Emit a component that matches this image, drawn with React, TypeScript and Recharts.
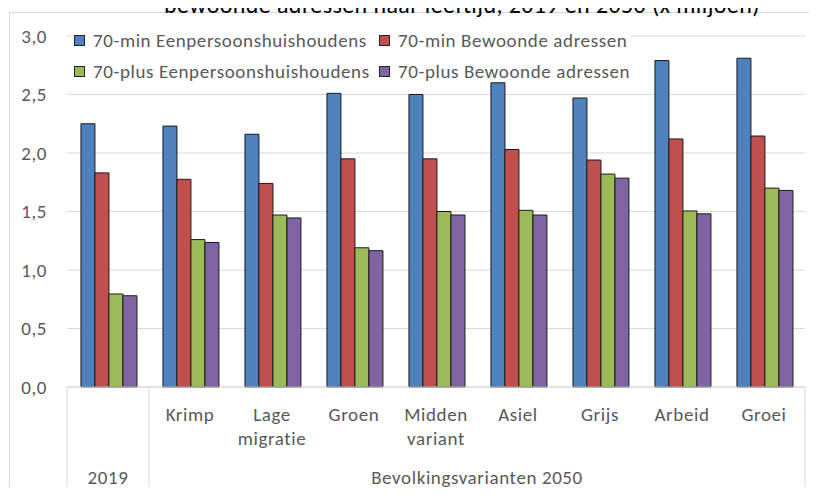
import * as React from "react";
import { BarChart, Bar, XAxis, YAxis, CartesianGrid, Legend } from "recharts";

const categories = ["2019", "Krimp", "Lage migratie", "Groen", "Midden variant", "Asiel", "Grijs", "Arbeid", "Groei"];
const groupLabels = ["2019", "Bevolkingsvarianten 2050"];

const min70Eenpersoons = [2.25, 2.23, 2.16, 2.51, 2.5, 2.6, 2.47, 2.79, 2.81];
const min70Adressen = [1.83, 1.775, 1.74, 1.95, 1.95, 2.03, 1.94, 2.12, 2.145];
const plus70Eenpersoons = [0.795, 1.26, 1.47, 1.19, 1.5, 1.51, 1.82, 1.505, 1.7];
const plus70Adressen = [0.78, 1.235, 1.445, 1.165, 1.47, 1.47, 1.785, 1.48, 1.68];

const yTicks = [0, 0.5, 1, 1.5, 2, 2.5, 3];

const SERIES = [
  { key: "min1", name: "70-min Eenpersoonshuishoudens", color: "#4F81BD", values: min70Eenpersoons },
  { key: "minA", name: "70-min Bewoonde adressen", color: "#C0504D", values: min70Adressen },
  { key: "plus1", name: "70-plus Eenpersoonshuishoudens", color: "#9BBB59", values: plus70Eenpersoons },
  { key: "plusA", name: "70-plus Bewoonde adressen", color: "#8064A2", values: plus70Adressen },
];

const data = categories.map((name, i) => {
  const row: Record<string, string | number> = { name };
  SERIES.forEach((s) => (row[s.key] = s.values[i]));
  return row;
});

const W = 817;
const H = 495;
const MARGIN = { top: 36, right: 12, left: 0, bottom: 0 };
const Y_W = 67;
const X_H = 108;
const FONT = "Carlito, Lato, 'Liberation Sans', sans-serif";
const TEXT = "#595959";
const LINE = "#d9d9d9";
const LABEL = { fill: TEXT, fontSize: 19, fontFamily: FONT, letterSpacing: 0.6 };

function CategoryTick(props: any) {
  const { x, y, payload, index } = props;
  const band =
    payload && payload.offset ? payload.offset * 2 : (W - MARGIN.left - MARGIN.right - Y_W) / categories.length;
  const bottom = y + X_H;
  const label = index === 0 ? [] : String(payload.value).split(" ");
  return (
    <g>
      {label.map((line: string, i: number) => (
        <text key={i} x={x} y={y + 34 + i * 24} textAnchor="middle" {...LABEL}>
          {line}
        </text>
      ))}
      {index === 0 && (
        <>
          <line x1={x - band / 2} x2={x - band / 2} y1={y} y2={bottom} stroke={LINE} />
          <line x1={x + band / 2} x2={x + band / 2} y1={y} y2={bottom} stroke={LINE} />
          <text x={x} y={y + 97} textAnchor="middle" {...LABEL}>
            {groupLabels[0]}
          </text>
        </>
      )}
      {index === 1 && (
        <text x={x + band * 3.5} y={y + 97} textAnchor="middle" {...LABEL}>
          {groupLabels[1]}
        </text>
      )}
      {index === categories.length - 1 && (
        <line x1={x + band / 2} x2={x + band / 2} y1={y} y2={bottom} stroke={LINE} />
      )}
    </g>
  );
}

function LegendBox() {
  return (
    <div
      style={{
        background: "#fff",
        display: "grid",
        gridTemplateColumns: "305px 252px",
        rowGap: 11,
        fontFamily: FONT,
        fontSize: 19,
        letterSpacing: 0.6,
        color: TEXT,
      }}
    >
      {SERIES.map((s) => (
        <div key={s.key} style={{ display: "flex", alignItems: "center", height: 20, whiteSpace: "nowrap" }}>
          <span
            style={{
              display: "inline-block",
              width: 9,
              height: 9,
              background: s.color,
              border: "1px solid #222",
              marginRight: 8,
            }}
          />
          {s.name}
        </div>
      ))}
    </div>
  );
}

export default function App() {
  return (
    <div style={{ position: "relative", width: W, height: H, margin: -8, background: "#fff" }}>
      <div
        style={{
          position: "absolute",
          left: 9,
          top: 12,
          width: 810,
          height: 500,
          border: `1px solid ${LINE}`,
          boxSizing: "border-box",
        }}
      />
      <div
        style={{
          position: "absolute",
          left: 0,
          width: 924,
          top: -7,
          textAlign: "center",
          fontFamily: FONT,
          fontSize: 24,
          letterSpacing: 0.4,
          lineHeight: "24px",
          color: "#000",
          whiteSpace: "nowrap",
        }}
      >
        bewoonde adressen naar leeftijd, 2019 en 2050 (x miljoen)
      </div>
      <div style={{ position: "absolute", left: 0, top: 0 }}>
        <BarChart width={W} height={H} data={data} margin={MARGIN} barCategoryGap="17%" barGap={0}>
          <CartesianGrid vertical={false} stroke={LINE} />
          <XAxis
            dataKey="name"
            height={X_H}
            interval={0}
            tickLine={false}
            tickSize={0}
            tickMargin={0}
            axisLine={{ stroke: LINE }}
            tick={(p: any) => <CategoryTick {...p} />}
          />
          <YAxis
            width={Y_W}
            domain={[0, 3]}
            ticks={yTicks}
            interval={0}
            axisLine={false}
            tickLine={false}
            tickSize={0}
            tickMargin={20}
            tickFormatter={(v: number) => v.toFixed(1).replace(".", ",")}
            tick={LABEL}
          />
          <Legend
            verticalAlign="middle"
            align="center"
            layout="horizontal"
            wrapperStyle={{ top: 30, left: 74, width: "auto" }}
            content={() => <LegendBox />}
          />
          {SERIES.map((s) => (
            <Bar
              key={s.key}
              dataKey={s.key}
              name={s.name}
              fill={s.color}
              stroke="#1a1a1a"
              strokeWidth={1}
              isAnimationActive={false}
            />
          ))}
        </BarChart>
      </div>
    </div>
  );
}
